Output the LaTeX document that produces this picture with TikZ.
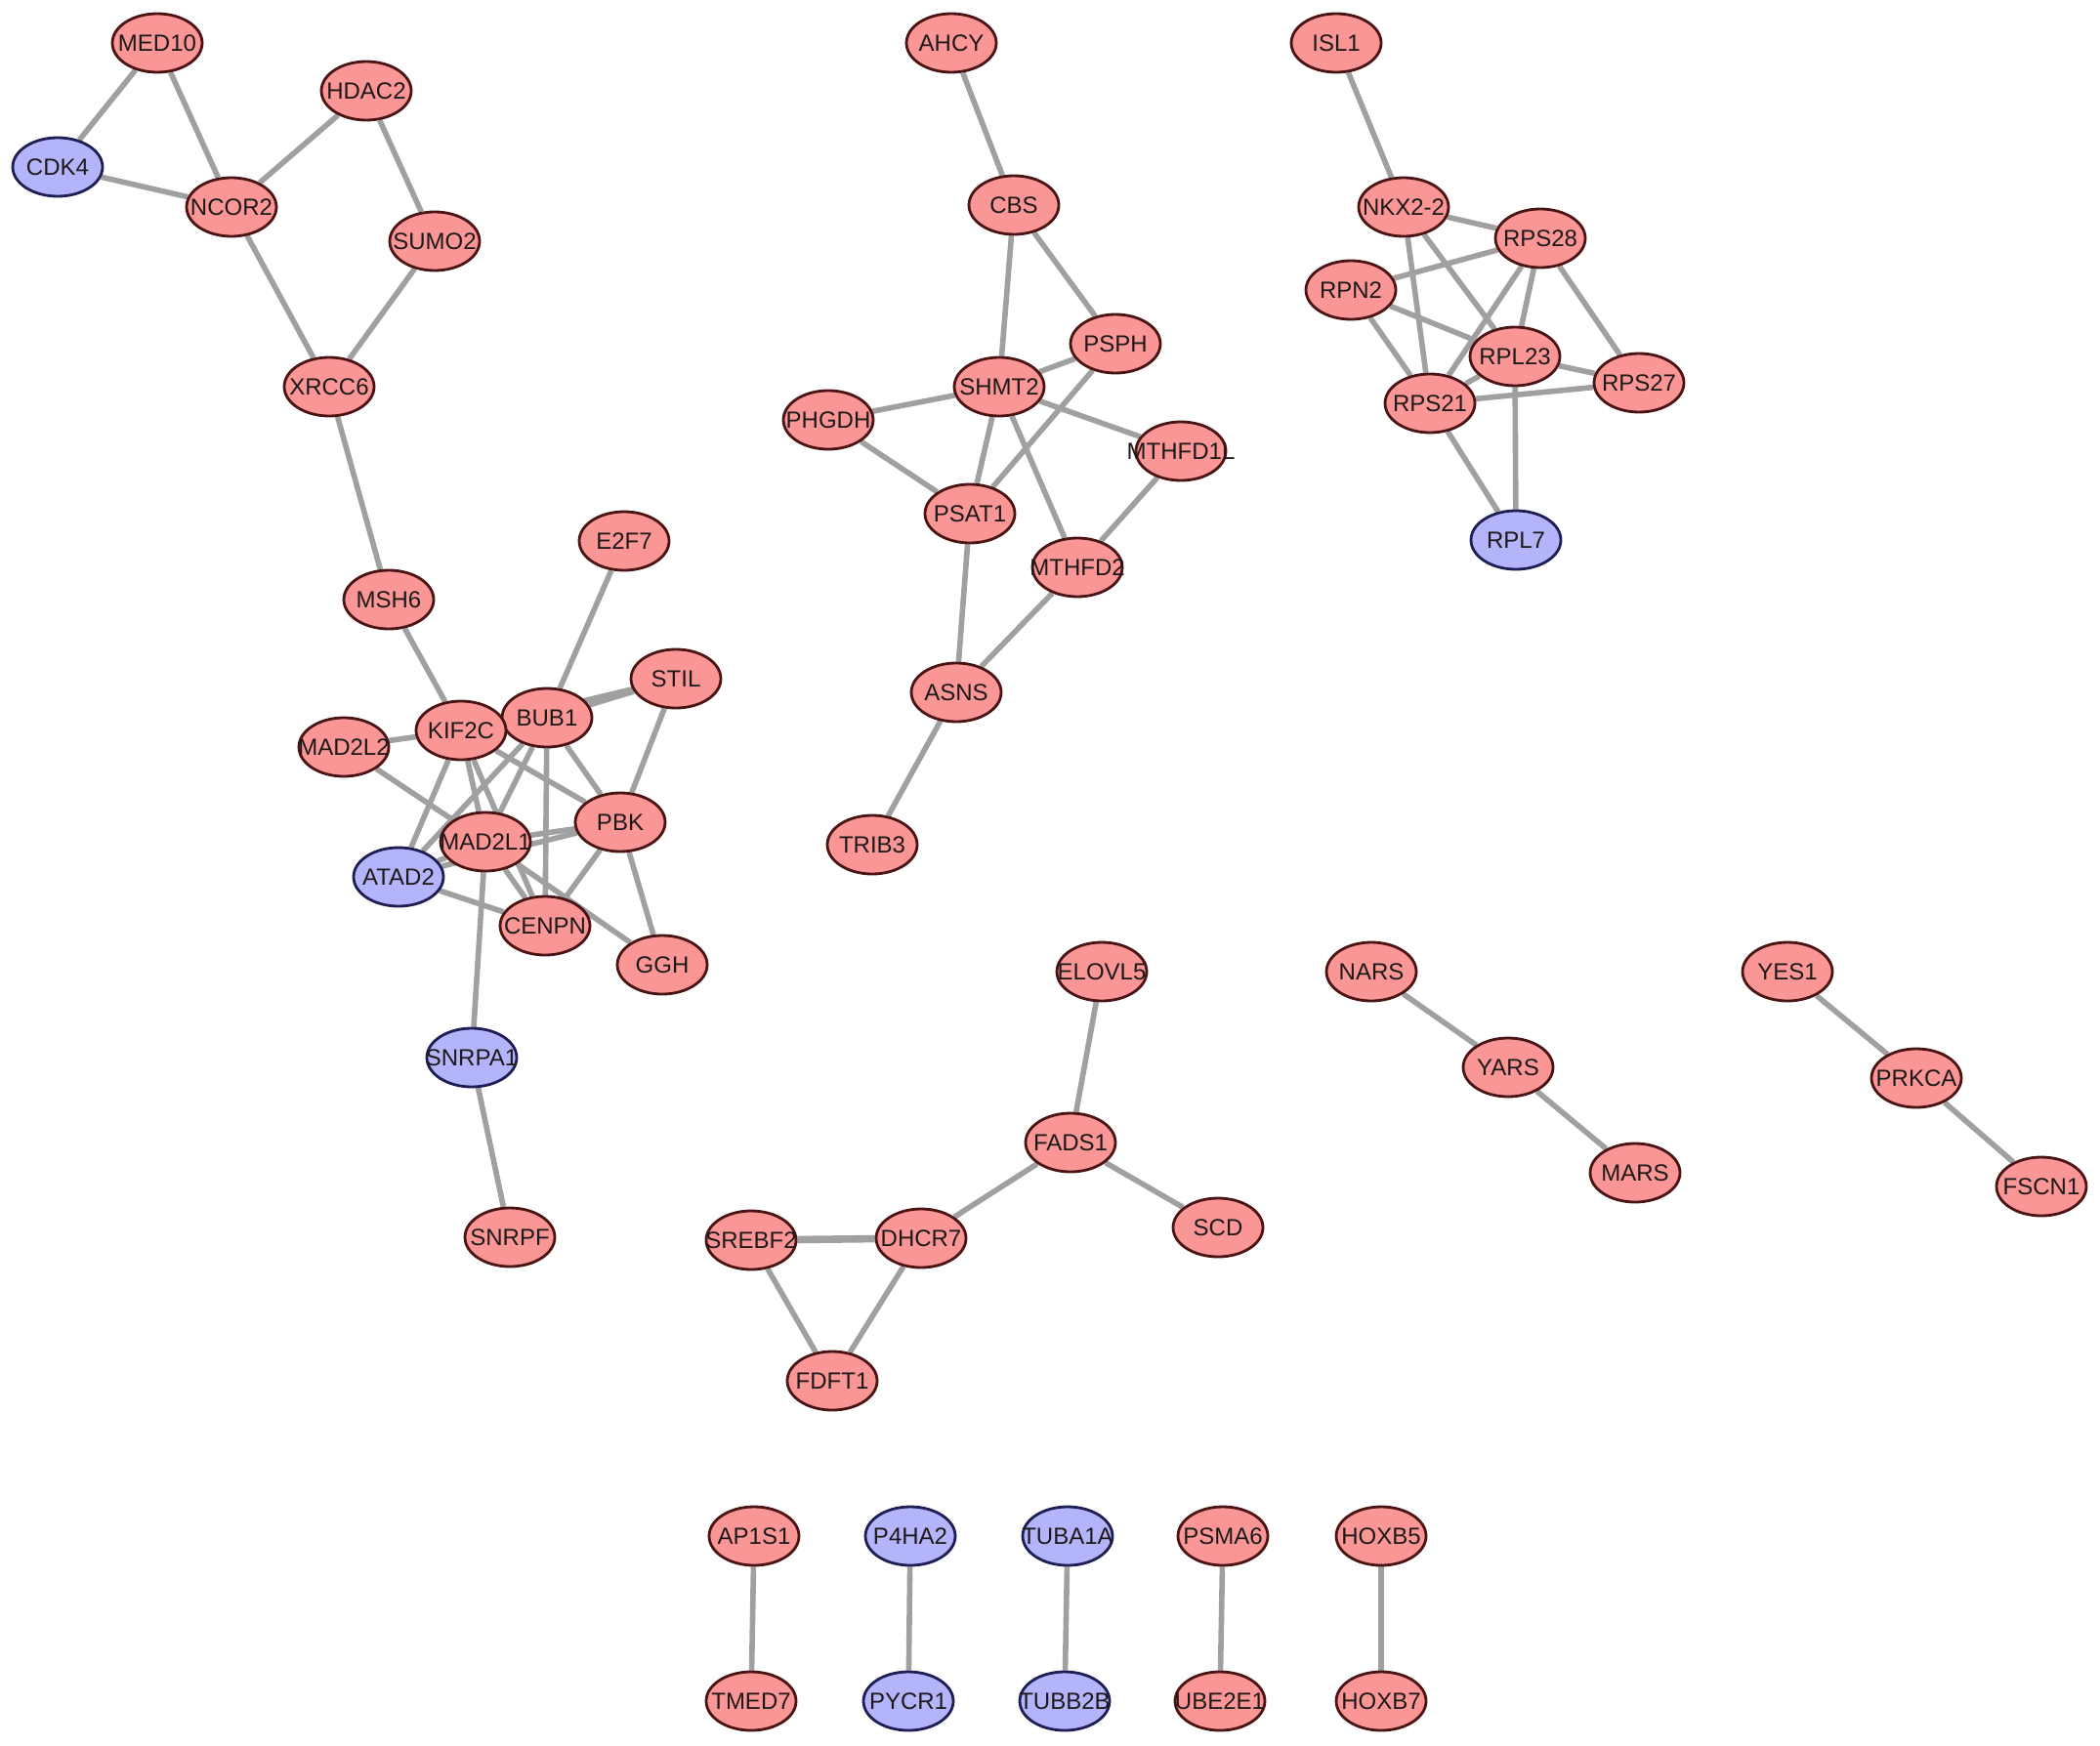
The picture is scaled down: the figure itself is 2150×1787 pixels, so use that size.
\documentclass[tikz,border=0pt]{standalone}
\usepackage{fontspec}
\setmainfont{Liberation Sans}
\usetikzlibrary{shapes.geometric}
\definecolor{upfill}{RGB}{250,150,150}
\definecolor{upline}{RGB}{75,20,20}
\definecolor{dnfill}{RGB}{180,180,250}
\definecolor{dnline}{RGB}{30,30,85}
\definecolor{edgec}{RGB}{160,160,160}
\definecolor{textc}{RGB}{30,25,25}
\pgfdeclarelayer{bg}
\pgfsetlayers{bg,main}
\begin{document}
\begin{tikzpicture}[x=0.5pt,y=-0.5pt,
  gene/.style={ellipse, line width=1.4pt, minimum width=46pt, minimum height=30pt, inner sep=0pt,
    font=\fontsize{12}{12}\selectfont, text=textc,
    execute at begin node={\hbox to 0pt\bgroup\hss}, execute at end node={\hss\egroup}},
  up/.style={gene, fill=upfill, draw=upline},
  dn/.style={gene, fill=dnfill, draw=dnline},
  link/.style={draw=edgec, line width=2.8pt}]
\useasboundingbox (0,0) rectangle (2150,1787);
% cluster 1
\node[up] (MED10) at (161,44) {MED10};
\node[dn] (CDK4) at (59,171) {CDK4};
\node[up] (NCOR2) at (237,212) {NCOR2};
\node[up] (HDAC2) at (375,93) {HDAC2};
\node[up] (SUMO2) at (445,247) {SUMO2};
\node[up] (XRCC6) at (337,396) {XRCC6};
\node[up] (MSH6) at (398,614) {MSH6};
\node[up] (E2F7) at (639,554) {E2F7};
\node[up] (STIL) at (692,695) {STIL};
\node[up] (BUB1) at (560,735) {BUB1};
\node[up] (KIF2C) at (472,748) {KIF2C};
\node[up] (MAD2L2) at (352,765) {MAD2L2};
\node[up] (PBK) at (635,842) {PBK};
\node[up] (MAD2L1) at (497,862) {MAD2L1};
\node[dn] (ATAD2) at (408,898) {ATAD2};
\node[up] (CENPN) at (558,948) {CENPN};
\node[up] (GGH) at (678,988) {GGH};
\node[dn] (SNRPA1) at (483,1083) {SNRPA1};
\node[up] (SNRPF) at (522,1267) {SNRPF};
% cluster 2
\node[up] (AHCY) at (974,44) {AHCY};
\node[up] (CBS) at (1038,210) {CBS};
\node[up] (PSPH) at (1142,352) {PSPH};
\node[up] (SHMT2) at (1023,396) {SHMT2};
\node[up] (PHGDH) at (848,430) {PHGDH};
\node[up] (MTHFD1L) at (1209,462) {MTHFD1L};
\node[up] (PSAT1) at (993,526) {PSAT1};
\node[up] (MTHFD2) at (1103,581) {MTHFD2};
\node[up] (ASNS) at (979,709) {ASNS};
\node[up] (TRIB3) at (893,865) {TRIB3};
% cluster 3
\node[up] (ISL1) at (1368,44) {ISL1};
\node[up] (NKX) at (1437,212) {NKX2-2};
\node[up] (RPS28) at (1577,244) {RPS28};
\node[up] (RPN2) at (1383,297) {RPN2};
\node[up] (RPL23) at (1551,365) {RPL23};
\node[up] (RPS27) at (1678,392) {RPS27};
\node[up] (RPS21) at (1464,413) {RPS21};
\node[dn] (RPL7) at (1552,553) {RPL7};
% cluster 4
\node[up] (ELOVL5) at (1128,995) {ELOVL5};
\node[up] (FADS1) at (1096,1170) {FADS1};
\node[up] (SCD) at (1247,1257) {SCD};
\node[up] (DHCR7) at (943,1268) {DHCR7};
\node[up] (SREBF2) at (769,1270) {SREBF2};
\node[up] (FDFT1) at (852,1414) {FDFT1};
% small chains
\node[up] (NARS) at (1404,995) {NARS};
\node[up] (YARS) at (1544,1093) {YARS};
\node[up] (MARS) at (1674,1201) {MARS};
\node[up] (YES1) at (1830,995) {YES1};
\node[up] (PRKCA) at (1962,1104) {PRKCA};
\node[up] (FSCN1) at (2090,1215) {FSCN1};
% pairs
\node[up] (AP1S1) at (772,1573) {AP1S1};
\node[up] (TMED7) at (769,1742) {TMED7};
\node[dn] (P4HA2) at (932,1573) {P4HA2};
\node[dn] (PYCR1) at (930,1742) {PYCR1};
\node[dn] (TUBA1A) at (1093,1573) {TUBA1A};
\node[dn] (TUBB2B) at (1090,1742) {TUBB2B};
\node[up] (PSMA6) at (1252,1573) {PSMA6};
\node[up] (UBE2E1) at (1249,1742) {UBE2E1};
\node[up] (HOXB5) at (1414,1573) {HOXB5};
\node[up] (HOXB7) at (1414,1742) {HOXB7};
\begin{pgfonlayer}{bg}
\fill[white] (0,0) rectangle (2150,1787);
\foreach \a/\b in {MED10/CDK4, MED10/NCOR2, CDK4/NCOR2, NCOR2/HDAC2, HDAC2/SUMO2, NCOR2/XRCC6, SUMO2/XRCC6, XRCC6/MSH6,
  MSH6/KIF2C, E2F7/BUB1, STIL/BUB1, STIL/KIF2C, STIL/PBK, MAD2L2/KIF2C, MAD2L2/MAD2L1, KIF2C/BUB1,
  KIF2C/ATAD2, KIF2C/MAD2L1, KIF2C/CENPN, KIF2C/PBK, BUB1/PBK, BUB1/CENPN, BUB1/MAD2L1, BUB1/ATAD2,
  PBK/MAD2L1, PBK/ATAD2, PBK/CENPN, PBK/GGH, MAD2L1/GGH, MAD2L1/CENPN, MAD2L1/ATAD2, ATAD2/CENPN,
  MAD2L1/SNRPA1, SNRPA1/SNRPF,
  AHCY/CBS, CBS/SHMT2, CBS/PSPH, PSPH/SHMT2, PSPH/PSAT1, SHMT2/PHGDH, SHMT2/PSAT1, SHMT2/MTHFD1L,
  SHMT2/MTHFD2, PHGDH/PSAT1, MTHFD1L/MTHFD2, PSAT1/ASNS, MTHFD2/ASNS, ASNS/TRIB3,
  ISL1/NKX, NKX/RPS28, NKX/RPS21, NKX/RPL23, RPN2/RPS28, RPN2/RPL23, RPN2/RPS21, RPS28/RPL23,
  RPS28/RPS21, RPS28/RPS27, RPL23/RPS27, RPL23/RPS21, RPS21/RPS27, RPS21/RPL7, RPL23/RPL7,
  ELOVL5/FADS1, FADS1/DHCR7, FADS1/SCD, SREBF2/FDFT1, DHCR7/FDFT1,
  NARS/YARS, YARS/MARS, YES1/PRKCA, PRKCA/FSCN1,
  AP1S1/TMED7, P4HA2/PYCR1, TUBA1A/TUBB2B, PSMA6/UBE2E1, HOXB5/HOXB7}
  {\path[link] (\a) -- (\b);}
\path[link, line width=3.8pt] (DHCR7) -- (SREBF2);
\end{pgfonlayer}
\end{tikzpicture}
\end{document}
